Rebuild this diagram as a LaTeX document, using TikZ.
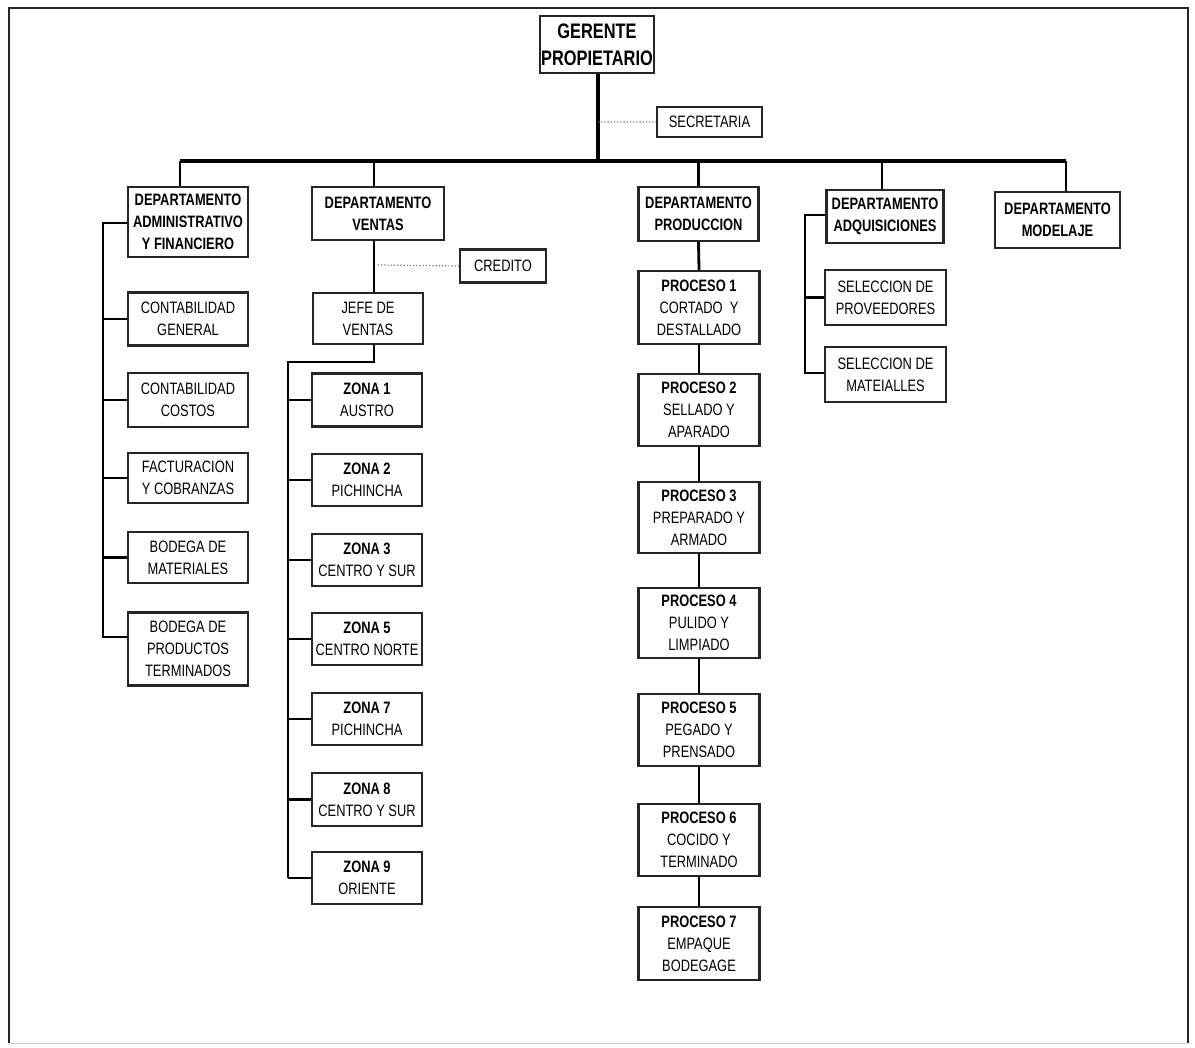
\documentclass[tikz,border=0pt]{standalone}
\usepackage{fontspec}
\setmainfont{Liberation Sans}[FakeStretch=0.78]
\begin{document}
\begin{tikzpicture}[x=1pt,y=-1pt,
  box/.style={draw=black!85, line width=2.2pt, fill=white, align=center, inner sep=0pt,
    font=\fontsize{16.5}{22}\selectfont},
  bigbox/.style={box, font=\fontsize{21}{27}\selectfont\bfseries},
  link/.style={line width=2.8pt, black},
  mainlink/.style={line width=3.8pt, black},
  dotlink/.style={line width=1.2pt, black!55, dotted},
  frameline/.style={line width=2pt, black!85}]
\useasboundingbox (0,0) rectangle (1195,1048);
% frame
\draw[frameline] (9,1043) -- (9,8) -- (1188,8) -- (1188,1043);
\draw[line width=1pt, black!20] (9,1043) -- (1188,1043);

% top
\node[bigbox, minimum width=114pt, minimum height=57pt] (ger) at (597,44.5) {GERENTE\\PROPIETARIO};
\node[box, minimum width=105pt, minimum height=30pt] (sec) at (709.5,122) {SECRETARIA};

% departments
\node[box, minimum width=120pt, minimum height=70pt] (adm) at (188,222) {\bfseries DEPARTAMENTO\\\bfseries ADMINISTRATIVO\\\bfseries Y FINANCIERO};
\node[box, minimum width=132pt, minimum height=53pt] (ven) at (378,213.5) {\bfseries DEPARTAMENTO\\\bfseries VENTAS};
\node[box, minimum width=120pt, minimum height=54pt] (pro) at (698.5,214) {\bfseries DEPARTAMENTO\\\bfseries PRODUCCION};
\node[box, minimum width=117pt, minimum height=53pt] (adq) at (885,216.5) {\bfseries DEPARTAMENTO\\\bfseries ADQUISICIONES};
\node[box, minimum width=125pt, minimum height=56pt] (mod) at (1057.5,220) {\bfseries DEPARTAMENTO\\\bfseries MODELAJE};

% bar
\coordinate (barL) at (180,161);
\coordinate (barR) at (1066,161);
\coordinate (barG) at (598,161);
\draw[mainlink] (barL) -- (barR);
\draw[mainlink] (ger.south -| barG) -- (barG);
\draw[dotlink] (ger.south -| barG) ++(0,48) -- (sec.west);
\draw[link] (barL) -- (adm.north -| barL);
\draw[link] (ven.north -| 374,0) -- (374,161);
\draw[link] (pro.north) -- (pro.north |- barL);
\draw[link] (adq.north -| 882,0) -- (882,161);
\draw[link] (mod.north -| barR) -- (barR);

% administrativo children
\node[box, minimum width=120pt, minimum height=53pt] (cg) at (188,319) {CONTABILIDAD\\GENERAL};
\node[box, minimum width=120pt, minimum height=54pt] (cc) at (188,400) {CONTABILIDAD\\COSTOS};
\node[box, minimum width=120pt, minimum height=50pt] (fc) at (188,478) {FACTURACION\\Y COBRANZAS};
\node[box, minimum width=120pt, minimum height=51pt] (bm) at (188,557.5) {BODEGA DE\\MATERIALES};
\node[box, minimum width=120pt, minimum height=73pt] (bp) at (188,649) {BODEGA DE\\PRODUCTOS\\TERMINADOS};
\coordinate (admT) at (103,223);
\coordinate (admB) at (103,637);
\draw[link] (adm.west |- admT) -- (admT) -- (admB) -- (bp.west |- admB);
\draw[link] (cg.west) -- (cg.west -| admT);
\draw[link] (cc.west) -- (cc.west -| admT);
\draw[link] (fc.west) -- (fc.west -| admT);
\draw[link] (bm.west) -- (bm.west -| admT);

% ventas children
\node[box, minimum width=86pt, minimum height=33pt] (cre) at (503,266) {CREDITO};
\node[box, minimum width=110pt, minimum height=51pt] (jef) at (368,318.5) {JEFE DE\\VENTAS};
\draw[link] (ven.south -| 374,0) -- (jef.north -| 374,0);
\draw[dotlink] (378,265) -- (cre.west);
\coordinate (jefK) at (374,362);
\coordinate (zT) at (288,362);
\coordinate (zB) at (288,878);
\draw[link] (jef.south -| jefK) -- (jefK) -- (zT) -- (zB);

\node[box, minimum width=110pt, minimum height=53pt] (z1) at (367,400) {\bfseries ZONA 1\\AUSTRO};
\node[box, minimum width=110pt, minimum height=52pt] (z2) at (367,480) {\bfseries ZONA 2\\PICHINCHA};
\node[box, minimum width=110pt, minimum height=52pt] (z3) at (367,560) {\bfseries ZONA 3\\CENTRO Y SUR};
\node[box, minimum width=110pt, minimum height=52pt] (z5) at (367,639) {\bfseries ZONA 5\\CENTRO NORTE};
\node[box, minimum width=110pt, minimum height=52pt] (z7) at (367,719) {\bfseries ZONA 7\\PICHINCHA};
\node[box, minimum width=110pt, minimum height=53pt] (z8) at (367,799.5) {\bfseries ZONA 8\\CENTRO Y SUR};
\node[box, minimum width=110pt, minimum height=52pt] (z9) at (367,878) {\bfseries ZONA 9\\ORIENTE};
\foreach \z in {z1,z2,z3,z5,z7,z8}{
  \draw[link] (\z.west) -- (\z.west -| zT);
}
\draw[link] (z9.west) -- (zB);

% produccion chain
\node[box, minimum width=121pt, minimum height=73pt] (p1) at (699,307.5) {\bfseries PROCESO 1\\CORTADO\ \ Y\\DESTALLADO};
\node[box, minimum width=121pt, minimum height=72pt] (p2) at (699,410) {\bfseries PROCESO 2\\SELLADO Y\\APARADO};
\node[box, minimum width=121pt, minimum height=71pt] (p3) at (699,517.5) {\bfseries PROCESO 3\\PREPARADO Y\\ARMADO};
\node[box, minimum width=121pt, minimum height=70pt] (p4) at (699,623) {\bfseries PROCESO 4\\PULIDO Y\\LIMPIADO};
\node[box, minimum width=121pt, minimum height=72pt] (p5) at (699,730) {\bfseries PROCESO 5\\PEGADO Y\\PRENSADO};
\node[box, minimum width=121pt, minimum height=72pt] (p6) at (699,840) {\bfseries PROCESO 6\\COCIDO Y\\TERMINADO};
\node[box, minimum width=121pt, minimum height=73pt] (p7) at (699,943.5) {\bfseries PROCESO 7\\EMPAQUE\\BODEGAGE};
\draw[link] (pro.south) -- (p1.north);
\draw[link] (p1.south) -- (p2.north);
\draw[link] (p2.south) -- (p3.north);
\draw[link] (p3.south) -- (p4.north);
\draw[link] (p4.south) -- (p5.north);
\draw[link] (p5.south) -- (p6.north);
\draw[link] (p6.south) -- (p7.north);

% adquisiciones children
\node[box, minimum width=121pt, minimum height=55pt] (sp) at (885.5,297.5) {SELECCION DE\\PROVEEDORES};
\node[box, minimum width=121pt, minimum height=55pt] (sm) at (885.5,374.5) {SELECCION DE\\MATEIALLES};
\coordinate (aqT) at (805,215);
\coordinate (aqB) at (805,373);
\draw[link] (adq.west |- aqT) -- (aqT) -- (aqB) -- (sm.west |- aqB);
\draw[link] (sp.west) -- (sp.west -| aqT);
\end{tikzpicture}
\end{document}
